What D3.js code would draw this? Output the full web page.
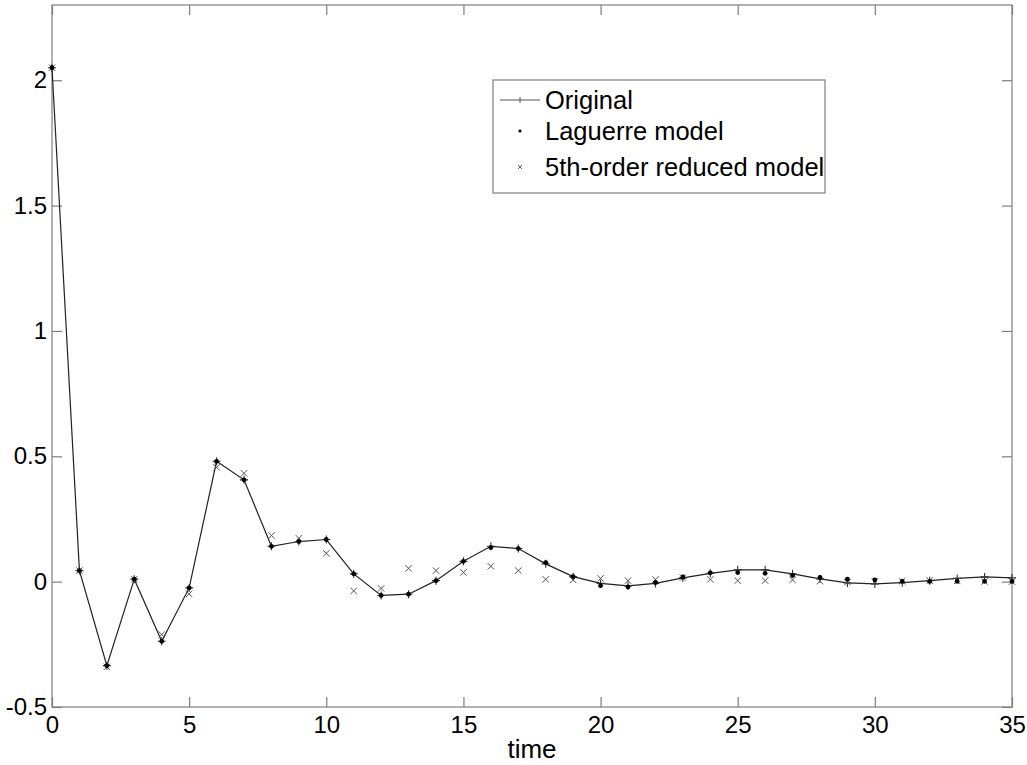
<!DOCTYPE html>
<html>
<head>
<meta charset="utf-8">
<script src="https://cdn.jsdelivr.net/npm/d3@7"></script>
<style>
  body { margin: 0; background: #fff; }
  svg { display: block; font-family: Arial, "Liberation Sans", sans-serif; }
</style>
</head>
<body>
<svg id="chart" width="1027" height="765"></svg>
<script>
// sample times 0..35
const time = d3.range(0, 36);

// Original response
const original = [2.05, 0.044, -0.335, 0.01, -0.238, -0.025, 0.48, 0.406, 0.141, 0.16,
  0.168, 0.031, -0.055, -0.05, 0.004, 0.081, 0.141, 0.132, 0.071, 0.02,
  -0.007, -0.017, -0.007, 0.015, 0.033, 0.047, 0.047, 0.031, 0.011, -0.005,
  -0.009, -0.004, 0.004, 0.013, 0.019, 0.015];

// Laguerre model
const laguerre = [2.05, 0.044, -0.335, 0.01, -0.238, -0.025, 0.48, 0.406, 0.141, 0.16,
  0.168, 0.031, -0.055, -0.05, 0.004, 0.081, 0.136, 0.132, 0.076, 0.02,
  -0.016, -0.021, -0.004, 0.018, 0.035, 0.036, 0.033, 0.025, 0.017, 0.01,
  0.007, 0.001, 0.001, 0.001, 0.001, 0.001];

// 5th-order reduced model
const reduced = [2.05, 0.044, -0.34, 0.01, -0.211, -0.049, 0.456, 0.432, 0.184, 0.173,
  0.113, -0.037, -0.027, 0.053, 0.044, 0.037, 0.061, 0.044, 0.009, 0.007,
  0.013, 0.004, 0.009, 0.016, 0.009, 0.004, 0.004, 0.007, 0.002, -0.002,
  0.001, 0.002, 0.004, 0.003, 0.001, 0.0];

const xTicks = [0, 5, 10, 15, 20, 25, 30, 35];
const yTicks = [-0.5, 0, 0.5, 1, 1.5, 2];
const legendLabels = ['Original', 'Laguerre model', '5th-order reduced model'];

const svg = d3.select('#chart');
const plotL = 52, plotR = 1012, plotT = 5, plotB = 707;

const x = d3.scaleLinear().domain([0, 35]).range([plotL, plotR]);
const y = d3.scaleLinear().domain([-0.5, 2.3]).range([plotB, plotT]);

const frame = '#7f7f7f';

// frame
svg.append('rect')
  .attr('x', plotL).attr('y', plotT)
  .attr('width', plotR - plotL).attr('height', plotB - plotT)
  .attr('fill', 'none').attr('stroke', frame).attr('stroke-width', 1.2);

// axes (ticks inward)
const tickLen = 10;
const xAxisB = d3.axisBottom(x).tickValues(xTicks).tickSize(-tickLen).tickFormat(d3.format('d'));
const xAxisT = d3.axisTop(x).tickValues(xTicks).tickSize(-tickLen).tickFormat('');
const yAxisL = d3.axisLeft(y).tickValues(yTicks).tickSize(-tickLen).tickFormat(d => String(d));
const yAxisR = d3.axisRight(y).tickValues(yTicks).tickSize(-tickLen).tickFormat('');

function styleAxis(g) {
  g.select('.domain').remove();
  g.selectAll('.tick line').attr('stroke', frame).attr('stroke-width', 1.2);
  g.selectAll('.tick text').attr('fill', '#000').attr('font-size', 24)
    .attr('font-family', 'Arial, "Liberation Sans", sans-serif');
}

svg.append('g').attr('transform', `translate(0,${plotB})`).call(xAxisB).call(styleAxis)
  .selectAll('.tick text').attr('y', 8).attr('dy', '0.75em');
svg.append('g').attr('transform', `translate(0,${plotT})`).call(xAxisT).call(styleAxis);
svg.append('g').attr('transform', `translate(${plotL},0)`).call(yAxisL).call(styleAxis)
  .selectAll('.tick text').attr('x', -5);
svg.append('g').attr('transform', `translate(${plotR},0)`).call(yAxisR).call(styleAxis);

// x label
svg.append('text')
  .attr('x', 532).attr('y', 758)
  .attr('text-anchor', 'middle').attr('font-size', 26).attr('fill', '#000')
  .text('time');

// series
const line = d3.line().x((d, i) => x(time[i])).y(d => y(d));

svg.append('path')
  .datum(original)
  .attr('d', line)
  .attr('fill', 'none').attr('stroke', '#222').attr('stroke-width', 1.2);

const plusSize = 4;
svg.append('g').selectAll('path')
  .data(original)
  .join('path')
  .attr('d', (d, i) => {
    const cx = x(time[i]), cy = y(d);
    return `M${cx - plusSize},${cy}H${cx + plusSize}M${cx},${cy - plusSize}V${cy + plusSize}`;
  })
  .attr('stroke', '#333').attr('stroke-width', 1.1);

const crossSize = 3.2;
svg.append('g').selectAll('path')
  .data(reduced)
  .join('path')
  .attr('d', (d, i) => {
    const cx = x(time[i]), cy = y(d), s = crossSize;
    return `M${cx - s},${cy - s}L${cx + s},${cy + s}M${cx - s},${cy + s}L${cx + s},${cy - s}`;
  })
  .attr('stroke', '#555').attr('stroke-width', 1);

svg.append('g').selectAll('circle')
  .data(laguerre)
  .join('circle')
  .attr('cx', (d, i) => x(time[i]))
  .attr('cy', d => y(d))
  .attr('r', 2.4)
  .attr('fill', '#000');

// legend
const lg = svg.append('g');
lg.append('rect')
  .attr('x', 493).attr('y', 80).attr('width', 332).attr('height', 113)
  .attr('fill', '#fff').attr('stroke', frame).attr('stroke-width', 1.2);

const rowY = [100, 131, 167];
lg.append('line').attr('x1', 500).attr('x2', 540).attr('y1', rowY[0]).attr('y2', rowY[0])
  .attr('stroke', '#555').attr('stroke-width', 1);
lg.append('path').attr('d', `M520,${rowY[0] - 3}V${rowY[0] + 3}`).attr('stroke', '#555');
lg.append('circle').attr('cx', 520).attr('cy', rowY[1]).attr('r', 1.6).attr('fill', '#000');
lg.append('path').attr('d', `M518,${rowY[2] - 2}L522,${rowY[2] + 2}M518,${rowY[2] + 2}L522,${rowY[2] - 2}`)
  .attr('stroke', '#555').attr('stroke-width', 0.9);

lg.selectAll('text.lab')
  .data(legendLabels)
  .join('text')
  .attr('class', 'lab')
  .attr('x', 545).attr('y', (d, i) => rowY[i])
  .attr('dy', '0.36em')
  .attr('font-size', 25.5).attr('fill', '#000')
  .text(d => d);
</script>
</body>
</html>
